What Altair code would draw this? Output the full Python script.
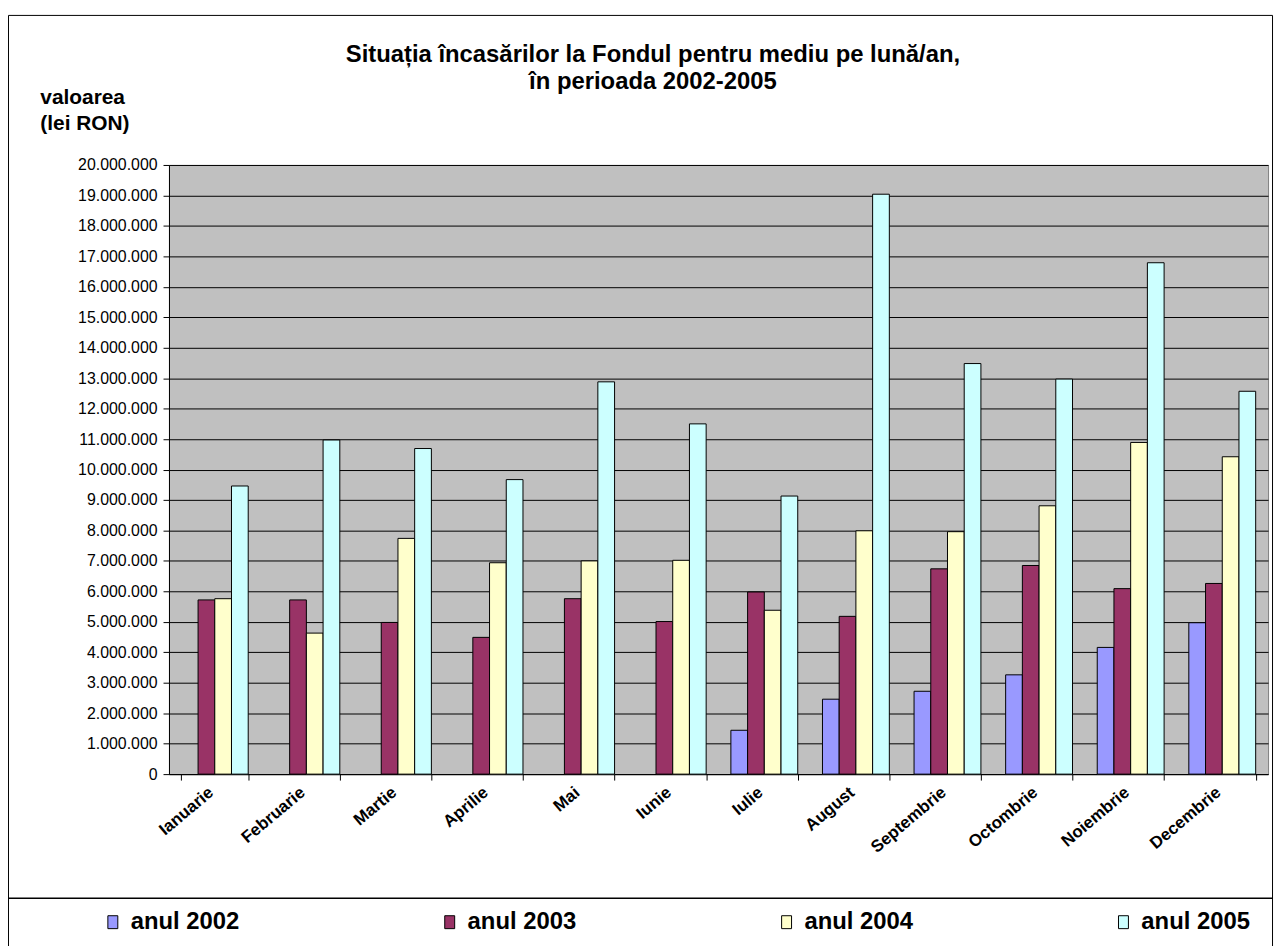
import altair as alt
import pandas as pd

FONT = "Liberation Sans"

luni = ["Ianuarie", "Februarie", "Martie", "Aprilie", "Mai", "Iunie",
        "Iulie", "August", "Septembrie", "Octombrie", "Noiembrie", "Decembrie"]
serii = ["anul 2002", "anul 2003", "anul 2004", "anul 2005"]
v2002 = [None, None, None, None, None, None,
         1440000, 2460000, 2720000, 3260000, 4160000, 4970000]
v2003 = [5720000, 5720000, 4980000, 4490000, 5760000, 5010000,
         5980000, 5180000, 6740000, 6850000, 6090000, 6260000]
v2004 = [5760000, 4630000, 7740000, 6940000, 7000000, 7020000,
         5380000, 7990000, 7960000, 8810000, 10890000, 10420000]
v2005 = [9460000, 10970000, 10690000, 9670000, 12880000, 11500000,
         9130000, 19040000, 13480000, 12970000, 16790000, 12570000]
culori = ["#9999FF", "#993366", "#FFFFCC", "#CCFFFF"]
y_ticks = list(range(0, 20000001, 1000000))
titlu = ["Situația încasărilor la Fondul pentru mediu pe lună/an,",
         "în perioada 2002-2005"]
titlu_y = ["valoarea", "(lei RON)"]

rows = []
for serie, vals in zip(serii, [v2002, v2003, v2004, v2005]):
    for luna, v in zip(luni, vals):
        if v is not None:
            rows.append({"luna": luna, "an": serie, "valoare": v})
df = pd.DataFrame(rows)

W, H = 1106, 613

bars = alt.Chart(df).mark_bar(stroke="black", strokeWidth=1).encode(
    x=alt.X("luna:N", sort=luni,
            scale=alt.Scale(paddingInner=0.27, paddingOuter=0.135),
            axis=alt.Axis(title=None, labelAngle=-40, labelAlign="right",
                          labelBaseline="middle", labelFontSize=17,
                          labelFontWeight="bold", labelPadding=10,
                          labelOffset=-4, tickBand="extent", tickSize=6,
                          domainColor="black", tickColor="black", grid=False,
                          labelColor="black", labelFont=FONT)),
    xOffset=alt.XOffset("an:N", sort=serii,
                        scale=alt.Scale(domain=serii, paddingInner=0, paddingOuter=0)),
    y=alt.Y("valoare:Q",
            scale=alt.Scale(domain=[0, 20000000], nice=False),
            axis=alt.Axis(values=y_ticks,
                          labelExpr="replace(format(datum.value, ',d'), regexp(',', 'g'), '.')",
                          title=titlu_y, titleAngle=0, titleX=-130, titleY=-79,
                          titleAlign="left", titleBaseline="top", titleFontSize=21,
                          titleFontWeight="bold", titleLineHeight=26, titleFont=FONT,
                          titleColor="black",
                          labelFontSize=16, labelFont=FONT, tickSize=6, labelPadding=6,
                          grid=True, gridColor="black", gridWidth=1,
                          domainColor="black", tickColor="black", labelColor="black")),
    color=alt.Color("an:N",
                    scale=alt.Scale(domain=serii, range=culori),
                    legend=alt.Legend(title=None, orient="none", legendX=-68.5,
                                      legendY=750, direction="horizontal",
                                      columns=4, columnPadding=199,
                                      symbolType="M-0.714,-0.929H0.714V0.929H-0.714Z",
                                      symbolSize=196, symbolStrokeColor="black",
                                      symbolStrokeWidth=1, symbolOpacity=1,
                                      labelFontSize=24, labelFontWeight="bold",
                                      labelOffset=6, labelColor="black",
                                      labelFont=FONT)),
)

one = alt.Data(values=[{}])
frame_left = alt.Chart(one).mark_rule(color="black", strokeWidth=1).encode(
    x=alt.value(-161.5), y=alt.value(-150.5), y2=alt.value(800))
frame_right = alt.Chart(one).mark_rule(color="black", strokeWidth=1).encode(
    x=alt.value(1110.5), y=alt.value(-150.5), y2=alt.value(800))
frame_top = alt.Chart(one).mark_rule(color="black", strokeWidth=1).encode(
    x=alt.value(-161.5), x2=alt.value(1110.5), y=alt.value(-150.5))
frame_sep = alt.Chart(one).mark_rule(color="black", strokeWidth=1.5).encode(
    x=alt.value(-161.5), x2=alt.value(1110.5), y=alt.value(738))

chart = alt.layer(bars, frame_left, frame_right, frame_top, frame_sep).properties(
    width=W, height=H,
    autosize="none",
    padding={"left": 162, "top": 155, "right": 8, "bottom": 170},
    title=alt.TitleParams(text=titlu, fontSize=24, fontWeight="bold",
                          anchor="middle", frame="group", dx=-66,
                          offset=-79.5, lineHeight=27, color="black", font=FONT),
).configure(font=FONT, background="white").configure_view(
    fill="#C0C0C0", stroke="#808080", strokeWidth=1)

chart.save("out.html", embed_options={"renderer": "svg", "actions": False})
